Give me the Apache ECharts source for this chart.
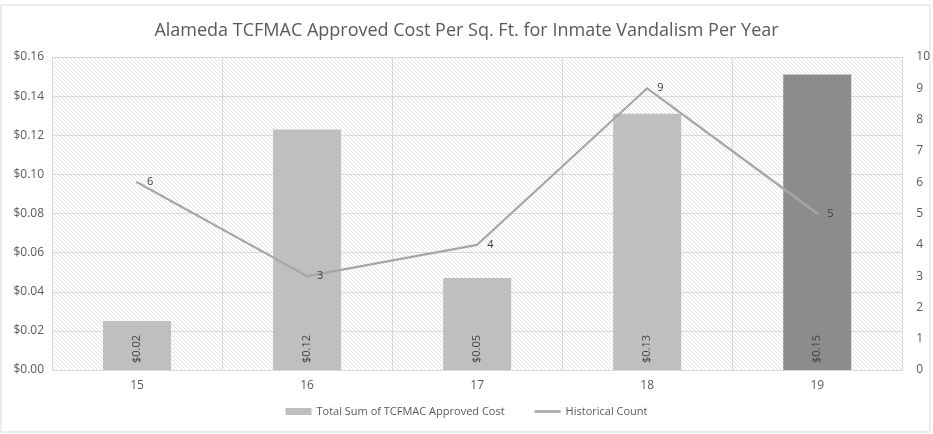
<!DOCTYPE html>
<html><head><meta charset="utf-8">
<script src="https://cdn.jsdelivr.net/npm/echarts@6/dist/echarts.min.js"></script>
<style>html,body{margin:0;padding:0;background:#fff}#c{width:933px;height:434px}</style>
</head><body><div id="c"></div>
<script>
var categories = ['15','16','17','18','19'];
var costValues = [0.025, 0.123, 0.047, 0.131, 0.151];
var countValues = [6, 3, 4, 9, 5];
var costLabels = ['$0.02','$0.12','$0.05','$0.13','$0.15'];

var pc = document.createElement('canvas');
pc.width = 4; pc.height = 4;
var g = pc.getContext('2d');
g.fillStyle = '#ffffff'; g.fillRect(0,0,4,4);
g.strokeStyle = '#e3e3e3'; g.lineWidth = 1;
g.beginPath(); g.moveTo(0,0); g.lineTo(4,4); g.stroke();
g.beginPath(); g.moveTo(-1,3); g.lineTo(1,5); g.stroke();
g.beginPath(); g.moveTo(3,-1); g.lineTo(5,1); g.stroke();

var font = 'Open Sans';
var chart = echarts.init(document.getElementById('c'));
chart.setOption({
  backgroundColor: '#fff',
  animation: false,
  textStyle: {fontFamily: font},
  graphic: [{type:'rect', shape:{x:1,y:5,width:929,height:427}, style:{fill:'none', stroke:'#d9d9d9', lineWidth:1}, z:-1}],
  title: {text: 'Alameda TCFMAC Approved Cost Per Sq. Ft. for Inmate Vandalism Per Year', left: 'center', top: 17,
    textStyle: {fontFamily: font, fontSize: 18, fontWeight: 'normal', color: '#595959'}},
  legend: {bottom: 12, left: 'center', itemGap: 30, itemWidth: 26, itemHeight: 7,
    textStyle: {color: '#595959', fontSize: 11, fontFamily: font},
    data: [{name:'Total Sum of TCFMAC Approved Cost', icon:'rect', itemStyle:{color:'#bfbfbf'}},
           {name:'Historical Count', icon:'path://M0,0 L10,0 L10,1 L0,1 Z', itemStyle:{color:'#a6a6a6'}}]},
  grid: {left: 52, right: 25, top: 57, bottom: 64, show: true, borderWidth: 0,
    backgroundColor: {image: pc, repeat: 'repeat'}},
  xAxis: {type: 'category', data: categories,
    axisLine: {show: true, lineStyle: {color: '#d9d9d9'}}, axisTick: {show: false},
    axisLabel: {color: '#595959', fontSize: 12, margin: 10},
    splitLine: {show: true, lineStyle: {color: '#d9d9d9'}}},
  yAxis: [
    {type: 'value', min: 0, max: 0.16, interval: 0.02,
      axisLabel: {color: '#595959', fontSize: 12, formatter: function(v){return '$' + v.toFixed(2);}, margin: 8},
      axisLine: {show: false}, axisTick: {show: false},
      splitLine: {lineStyle: {color: '#d9d9d9'}}},
    {type: 'value', min: 0, max: 10, interval: 1,
      axisLabel: {color: '#595959', fontSize: 12, margin: 14},
      axisLine: {show: false}, axisTick: {show: false}, splitLine: {show: false}}
  ],
  series: [
    {name: 'Total Sum of TCFMAC Approved Cost', type: 'bar', barWidth: '40%', yAxisIndex: 0,
      data: costValues.map(function(v,i){ return {value: v, itemStyle: {color: i === 4 ? '#8c8c8c' : '#bfbfbf'}}; }),
      label: {show: true, position: 'insideBottom', rotate: 90, distance: 7, align: 'left', verticalAlign: 'middle',
        color: '#404040', fontSize: 11, formatter: function(p){ return costLabels[p.dataIndex]; }}},
    {name: 'Historical Count', type: 'line', yAxisIndex: 1, data: countValues, z: 5,
      symbol: 'circle', symbolSize: 2, showSymbol: true,
      lineStyle: {color: '#a6a6a6', width: 2.2}, itemStyle: {color: '#a6a6a6'},
      label: {show: true, position: 'right', distance: 9, color: '#404040', fontSize: 11}}
  ]
});
</script></body></html>
